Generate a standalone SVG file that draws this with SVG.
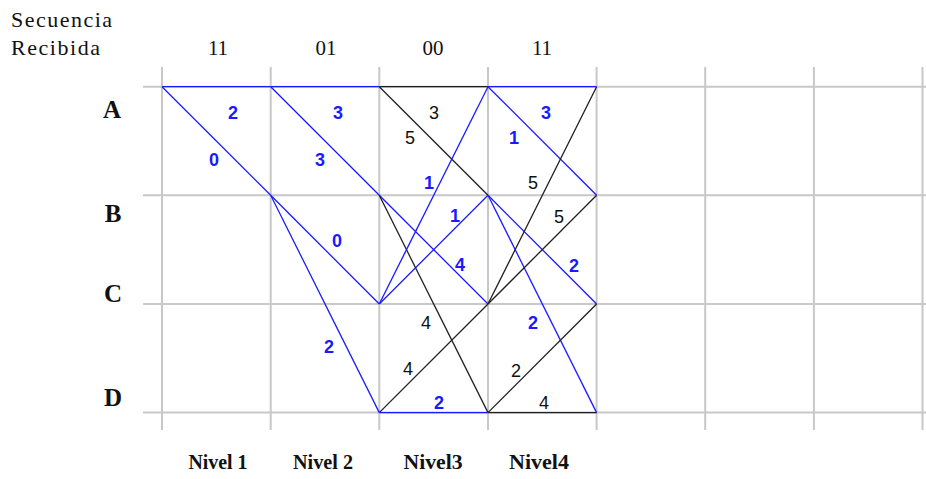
<svg xmlns="http://www.w3.org/2000/svg" width="926" height="479" viewBox="0 0 926 479">
<style>
.grid{stroke:#c8c8c8;stroke-width:2;fill:none}
.b{stroke:#1a1aff;stroke-width:1.3;fill:none}
.k{stroke:#202020;stroke-width:1.3;fill:none}
.hdr{font-family:"Liberation Serif",serif;font-size:22px;fill:#111}
.num{font-family:"Liberation Serif",serif;font-size:21px;fill:#111;text-anchor:middle}
.row{font-family:"Liberation Serif",serif;font-size:25px;font-weight:bold;fill:#111;text-anchor:middle}
.niv{font-family:"Liberation Serif",serif;font-size:20px;font-weight:bold;fill:#111;text-anchor:middle}
.lb{font-family:"Liberation Sans",Arial,sans-serif;font-size:18px;font-weight:bold;fill:#1a1aff;text-anchor:middle}
.lk{font-family:"Liberation Sans",Arial,sans-serif;font-size:18px;fill:#111;text-anchor:middle}
</style>
<rect width="926" height="479" fill="#fff"/>
<g id="grid">
<path class="grid" d="M143 86.7H926M143 195.3H926M143 304H926M143 412.6H926"/>
<path class="grid" d="M162 67V430M270.7 67V430M379.3 67V430M488 67V430M596.6 67V430M705.2 67V430M813.9 67V430M922.5 67V430"/>
</g>
<g id="header">
<text class="hdr" x="11" y="27" textLength="101" lengthAdjust="spacing">Secuencia</text>
<text class="hdr" x="11" y="55" textLength="89" lengthAdjust="spacing">Recibida</text>
<text class="num" x="218" y="55">11</text>
<text class="num" x="326" y="55">01</text>
<text class="num" x="433" y="55">00</text>
<text class="num" x="542" y="55">11</text>
</g>
<g id="state-A"><text class="row" x="112" y="118">A</text></g>
<g id="state-B"><text class="row" x="113" y="222">B</text></g>
<g id="state-C"><text class="row" x="113" y="302">C</text></g>
<g id="state-D"><text class="row" x="113" y="406">D</text></g>
<g id="levels">
<text class="niv" x="218" y="469" textLength="59" lengthAdjust="spacingAndGlyphs">Nivel 1</text>
<text class="niv" x="323" y="469" textLength="60" lengthAdjust="spacingAndGlyphs">Nivel 2</text>
<text class="niv" x="433" y="469" textLength="59" lengthAdjust="spacingAndGlyphs">Nivel3</text>
<text class="niv" x="539" y="469" textLength="60" lengthAdjust="spacingAndGlyphs">Nivel4</text>
</g>
<g id="connectors">
<!-- level 1 -->
<line class="b" x1="162" y1="86.7" x2="270.7" y2="86.7"/>
<line class="b" x1="162" y1="86.7" x2="270.7" y2="195.3"/>
<!-- level 2 -->
<line class="b" x1="270.7" y1="86.7" x2="379.3" y2="86.7"/>
<line class="b" x1="270.7" y1="86.7" x2="379.3" y2="195.3"/>
<line class="b" x1="270.7" y1="195.3" x2="379.3" y2="304"/>
<line class="b" x1="270.7" y1="195.3" x2="379.3" y2="412.6"/>
<!-- level 3 -->
<line class="k" x1="379.3" y1="86.7" x2="488" y2="86.7"/>
<line class="k" x1="379.3" y1="86.7" x2="488" y2="195.3"/>
<line class="b" x1="379.3" y1="195.3" x2="488" y2="304"/>
<line class="k" x1="379.3" y1="195.3" x2="488" y2="412.6"/>
<line class="b" x1="379.3" y1="304" x2="488" y2="86.7"/>
<line class="b" x1="379.3" y1="304" x2="488" y2="195.3"/>
<line class="k" x1="379.3" y1="412.6" x2="488" y2="304"/>
<line class="b" x1="379.3" y1="412.6" x2="488" y2="412.6"/>
<!-- level 4 -->
<line class="b" x1="488" y1="86.7" x2="596.6" y2="86.7"/>
<line class="b" x1="488" y1="86.7" x2="596.6" y2="195.3"/>
<line class="b" x1="488" y1="195.3" x2="596.6" y2="304"/>
<line class="b" x1="488" y1="195.3" x2="596.6" y2="412.6"/>
<line class="k" x1="488" y1="304" x2="596.6" y2="86.7"/>
<line class="k" x1="488" y1="304" x2="596.6" y2="195.3"/>
<line class="k" x1="488" y1="412.6" x2="596.6" y2="304"/>
<line class="k" x1="488" y1="412.6" x2="596.6" y2="412.6"/>
<!-- labels -->
<text class="lb" x="233" y="119">2</text>
<text class="lb" x="214" y="166">0</text>
<text class="lb" x="338" y="119">3</text>
<text class="lb" x="320" y="166">3</text>
<text class="lb" x="337" y="247">0</text>
<text class="lb" x="329" y="353">2</text>
<text class="lk" x="434" y="119">3</text>
<text class="lk" x="410" y="144">5</text>
<text class="lb" x="429" y="189">1</text>
<text class="lb" x="455" y="222">1</text>
<text class="lb" x="460" y="271">4</text>
<text class="lk" x="426" y="329">4</text>
<text class="lk" x="408" y="375">4</text>
<text class="lb" x="439" y="409">2</text>
<text class="lb" x="546" y="119">3</text>
<text class="lb" x="514" y="144">1</text>
<text class="lk" x="533" y="189">5</text>
<text class="lk" x="559" y="223">5</text>
<text class="lb" x="574" y="272">2</text>
<text class="lb" x="533" y="329">2</text>
<text class="lk" x="516" y="377">2</text>
<text class="lk" x="544" y="409">4</text>
</g>
</svg>
